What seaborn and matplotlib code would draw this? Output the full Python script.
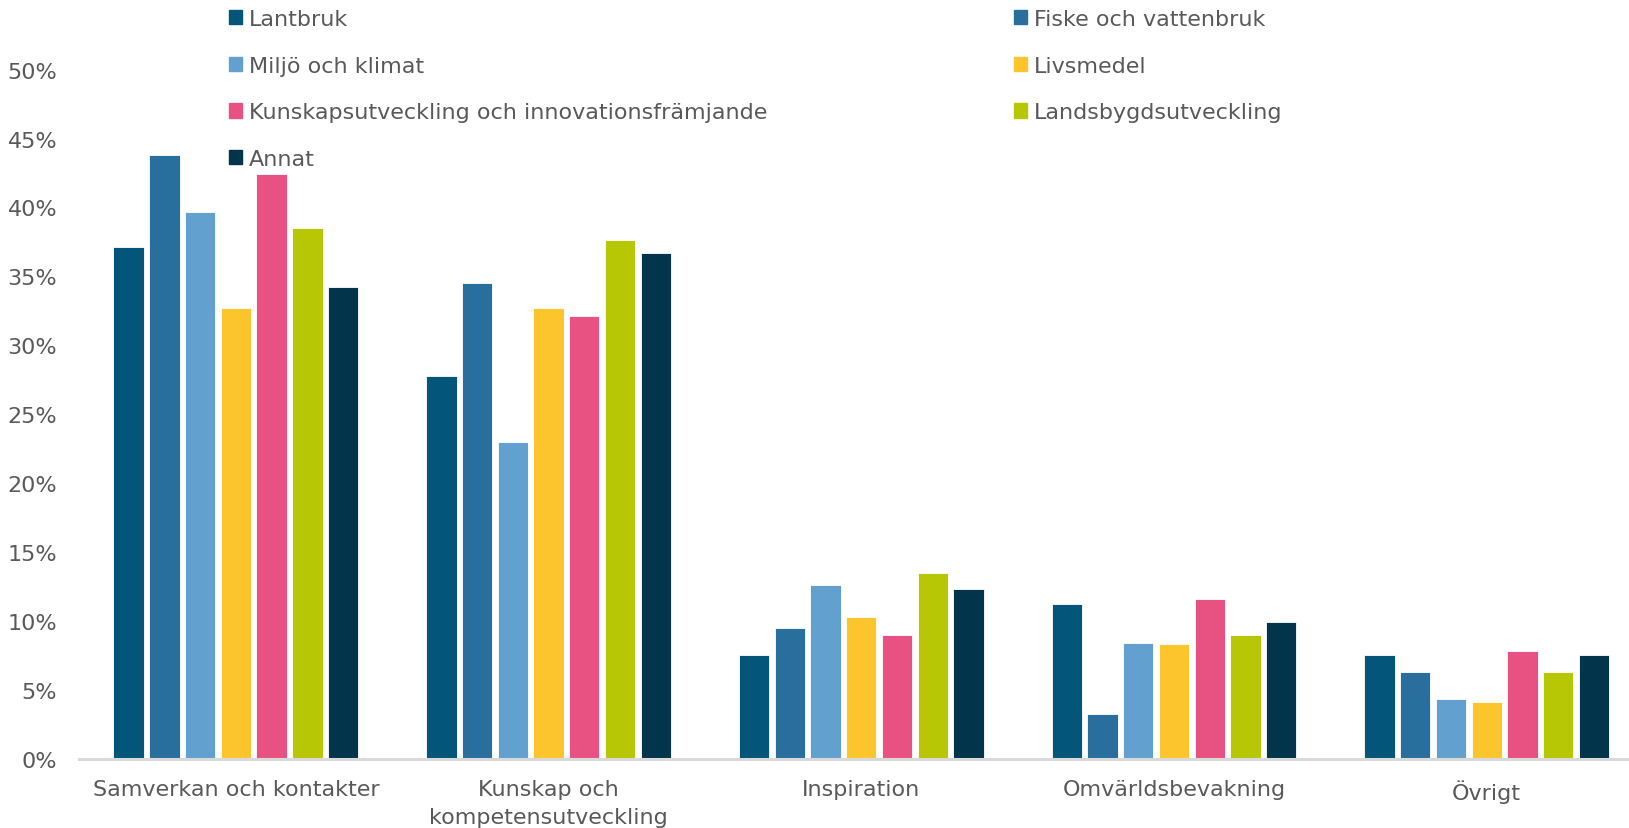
import matplotlib
matplotlib.use("Agg")
import matplotlib.pyplot as plt
import seaborn as sns
import pandas as pd
from matplotlib.ticker import PercentFormatter

# categories on the x axis
categories = [
    "Samverkan och kontakter",
    "Kunskap och\nkompetensutveckling",
    "Inspiration",
    "Omvärldsbevakning",
    "Övrigt",
]

# one list per series, same order as categories (share of answers)
lantbruk = [0.371, 0.278, 0.075, 0.112, 0.075]
fiske = [0.438, 0.345, 0.095, 0.032, 0.063]
miljo = [0.397, 0.230, 0.126, 0.084, 0.043]
livsmedel = [0.327, 0.327, 0.103, 0.083, 0.041]
kunskap = [0.424, 0.321, 0.090, 0.116, 0.078]
landsbygd = [0.385, 0.376, 0.135, 0.090, 0.063]
annat = [0.342, 0.367, 0.123, 0.099, 0.075]

series_names = [
    "Lantbruk",
    "Fiske och vattenbruk",
    "Miljö och klimat",
    "Livsmedel",
    "Kunskapsutveckling och innovationsfrämjande",
    "Landsbygdsutveckling",
    "Annat",
]
series_values = [lantbruk, fiske, miljo, livsmedel, kunskap, landsbygd, annat]

colors = ["#03557a", "#286f9e", "#62a0cf", "#fdc52d", "#e85283", "#b8c705", "#02354b"]

rows = []
for name, vals in zip(series_names, series_values):
    for cat, v in zip(categories, vals):
        rows.append({"category": cat, "series": name, "share": v})
df = pd.DataFrame(rows)

sns.set_style("white")
plt.rcParams["font.family"] = ["DejaVu Sans"]
text_color = "#595959"
fs = 16

fig = plt.figure(figsize=(16.29, 8.29), dpi=100)
ax = fig.add_axes([0.0488, 0.0838, 0.9512, 0.831])

sns.barplot(
    data=df,
    x="category",
    y="share",
    hue="series",
    hue_order=series_names,
    order=categories,
    palette=colors,
    saturation=1,
    width=0.8,
    gap=0.15,
    edgecolor="white",
    linewidth=0.6,
    legend=False,
    ax=ax,
)

ax.set_xlim(-0.5, 4.455)
ax.set_ylim(0, 0.5)
ax.set_yticks([i * 0.05 for i in range(11)])
ax.yaxis.set_major_formatter(PercentFormatter(1.0, decimals=0))
ax.set_xlabel("")
ax.set_ylabel("")
ax.tick_params(axis="y", length=0, pad=16, labelsize=fs, labelcolor=text_color)
ax.tick_params(axis="x", length=0, pad=15, labelsize=fs, labelcolor=text_color)
for lbl in ax.get_xticklabels():
    lbl.set_linespacing(1.45)

for side in ["top", "right", "left"]:
    ax.spines[side].set_visible(False)
ax.spines["bottom"].set_color("#d9d9d9")
ax.spines["bottom"].set_linewidth(2.2)

# legend in two manually placed columns, row-major like the original
handles = [plt.Rectangle((0, 0), 1, 1, color=c) for c in colors]
left_idx = [0, 2, 4, 6]
right_idx = [1, 3, 5]
leg_kw = dict(
    frameon=False,
    fontsize=fs,
    labelcolor=text_color,
    handlelength=0.6,
    handleheight=0.6,
    handletextpad=0.3,
    labelspacing=1.2,
    borderaxespad=0,
    borderpad=0,
    loc="upper left",
)
fig.legend([handles[i] for i in left_idx], [series_names[i] for i in left_idx],
           bbox_to_anchor=(229 / 1629, 1 - 10 / 829), **leg_kw)
fig.legend([handles[i] for i in right_idx], [series_names[i] for i in right_idx],
           bbox_to_anchor=(1014 / 1629, 1 - 10 / 829), **leg_kw)

fig.savefig("out.png", dpi=100)
